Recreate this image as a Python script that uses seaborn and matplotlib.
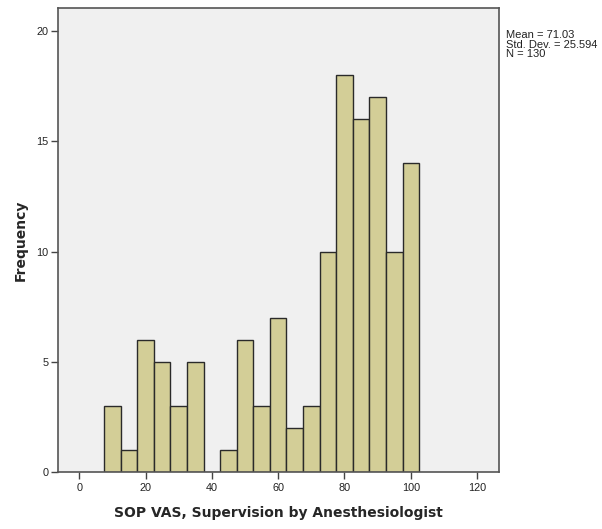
import numpy as np
import pandas as pd
import matplotlib
matplotlib.use("Agg")
import matplotlib.pyplot as plt
import seaborn as sns

# Data
bin_edges = [7.5, 12.5, 17.5, 22.5, 27.5, 32.5, 37.5, 42.5, 47.5, 52.5, 57.5,
             62.5, 67.5, 72.5, 77.5, 82.5, 87.5, 92.5, 97.5, 102.5]
counts = [3, 1, 6, 5, 3, 5, 0, 1, 6, 3, 7, 2, 3, 10, 18, 16, 17, 10, 14]
x_ticks = [0, 20, 40, 60, 80, 100, 120]
y_ticks = [0, 5, 10, 15, 20]
stats_text = "Mean = 71.03\nStd. Dev. = 25.594\nN = 130"

centers = [(a + b) / 2 for a, b in zip(bin_edges[:-1], bin_edges[1:])]
df = pd.DataFrame({"value": centers, "count": counts})

sns.set_style("white")
plt.rcParams['font.family'] = ['Liberation Sans', 'DejaVu Sans']

fig = plt.figure(figsize=(6.02, 5.29), dpi=100)
ax = fig.add_axes([58/602, 1 - 472/529, (499-58)/602, (472-8)/529])
ax.set_facecolor("#f0f0f0")

sns.histplot(data=df, x="value", weights="count", bins=bin_edges, ax=ax,
             color="#d3ce97", edgecolor="#2a2a2a", linewidth=1.0, alpha=1.0)

ax.set_xlim(-6.4, 126.6)
ax.set_ylim(0, 21.05)
ax.set_xticks(x_ticks)
ax.set_yticks(y_ticks)
ax.tick_params(axis="both", bottom=True, left=True, labelsize=7.8,
               colors="#444444", length=5, width=1,
               direction="out", labelcolor="#222222")
ax.tick_params(axis="x", pad=3)
ax.tick_params(axis="y", pad=2)
for s in ax.spines.values():
    s.set_visible(True)
    s.set_color("#555555")
    s.set_linewidth(1.2)

ax.set_xlabel("SOP VAS, Supervision by Anesthesiologist", fontsize=10,
              fontweight="bold", family=["DejaVu Sans"], labelpad=9)
ax.set_ylabel("Frequency", fontsize=10, fontweight="bold",
              family=["DejaVu Sans"], labelpad=6)

fig.text(506/602, 1 - 30/529, stats_text, fontsize=8, va="top", ha="left",
         color="#222222", linespacing=0.95)

fig.savefig("out.png", dpi=100)
